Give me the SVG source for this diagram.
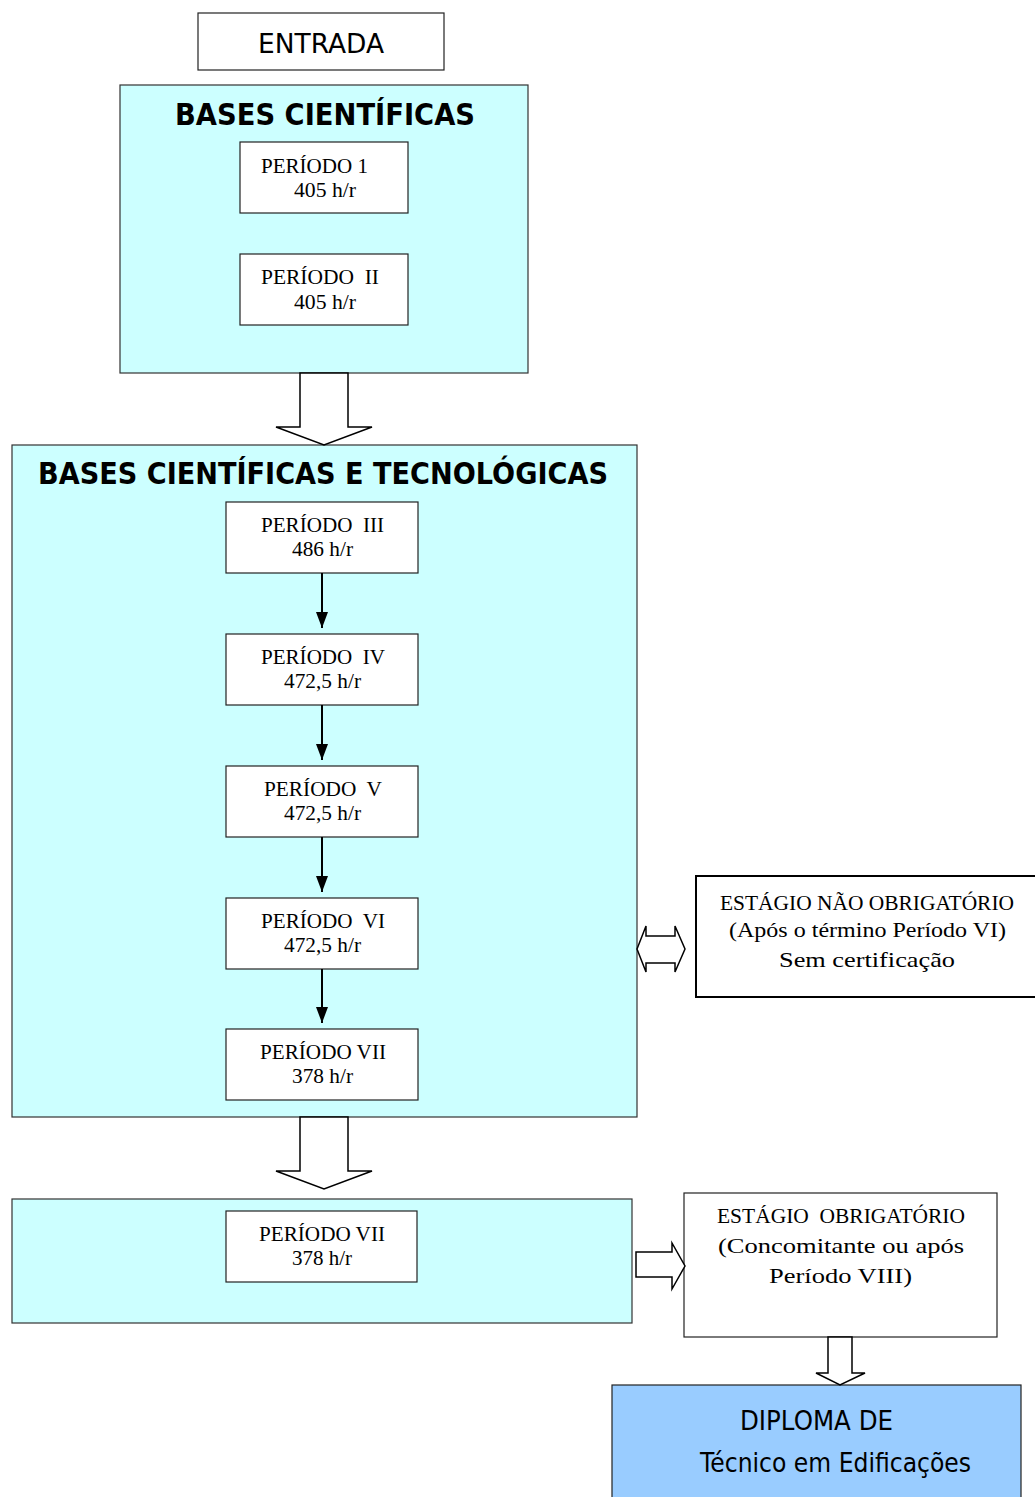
<svg xmlns="http://www.w3.org/2000/svg" width="1035" height="1497" viewBox="0 0 1035 1497">
<style>
.bg{fill:#fff}
.box{fill:#fff;stroke:#222;stroke-width:1.2}
.panel{fill:#CCFFFF;stroke:#333;stroke-width:1.2}
.blk{fill:#fff;stroke:#000;stroke-width:1.5;stroke-linejoin:miter}
.tm{font-family:"Liberation Serif","Times New Roman",serif;font-size:21px;fill:#000;white-space:pre}
.sn{font-family:"DejaVu Sans","Liberation Sans",sans-serif;font-size:27px;fill:#000}
.ttl{font-family:"DejaVu Sans","Liberation Sans",sans-serif;font-size:30px;font-weight:bold;fill:#000}
.ln{stroke:#000;stroke-width:2;fill:none}
</style>
<defs>
<marker id="ah" markerWidth="16" markerHeight="12" refX="16" refY="6" orient="auto" markerUnits="userSpaceOnUse" viewBox="0 0 16 12">
<path d="M0,0 L16,6 L0,12 Z" fill="#000"/>
</marker>
</defs>
<rect class="bg" x="0" y="0" width="1035" height="1497"/>

<g id="entrada">
<rect class="box" x="198" y="13" width="246" height="57"/>
<text class="sn" x="258" y="53" textLength="126" lengthAdjust="spacingAndGlyphs">ENTRADA</text>
</g>

<g id="bases-cientificas">
<rect class="panel" x="120" y="85" width="408" height="288"/>
<text class="ttl" x="175" y="125" textLength="300" lengthAdjust="spacingAndGlyphs">BASES CIENTÍFICAS</text>
</g>
<g id="periodo-1">
<rect class="box" x="240" y="142" width="168" height="71"/>
<text class="tm" x="261" y="173" textLength="107" lengthAdjust="spacingAndGlyphs">PERÍODO 1</text>
<text class="tm" x="294" y="197" textLength="62" lengthAdjust="spacingAndGlyphs">405 h/r</text>
</g>
<g id="periodo-2">
<rect class="box" x="240" y="254" width="168" height="71"/>
<text class="tm" x="261" y="284" textLength="118" lengthAdjust="spacingAndGlyphs">PERÍODO  II</text>
<text class="tm" x="294" y="309" textLength="62" lengthAdjust="spacingAndGlyphs">405 h/r</text>
</g>

<g id="bases-tecnologicas">
<rect class="panel" x="12" y="445" width="625" height="672"/>
<text class="ttl" x="38" y="484" textLength="570" lengthAdjust="spacingAndGlyphs">BASES CIENTÍFICAS E TECNOLÓGICAS</text>
</g>
<g id="periodo-3">
<rect class="box" x="226" y="502" width="192" height="71"/>
<text class="tm" x="261" y="532" textLength="123" lengthAdjust="spacingAndGlyphs">PERÍODO  III</text>
<text class="tm" x="292" y="556" textLength="61" lengthAdjust="spacingAndGlyphs">486 h/r</text>
</g>
<g id="periodo-4">
<rect class="box" x="226" y="634" width="192" height="71"/>
<text class="tm" x="261" y="664" textLength="124" lengthAdjust="spacingAndGlyphs">PERÍODO  IV</text>
<text class="tm" x="284" y="688" textLength="77" lengthAdjust="spacingAndGlyphs">472,5 h/r</text>
</g>
<g id="periodo-5">
<rect class="box" x="226" y="766" width="192" height="71"/>
<text class="tm" x="264" y="796" textLength="118" lengthAdjust="spacingAndGlyphs">PERÍODO  V</text>
<text class="tm" x="284" y="820" textLength="77" lengthAdjust="spacingAndGlyphs">472,5 h/r</text>
</g>
<g id="periodo-6">
<rect class="box" x="226" y="898" width="192" height="71"/>
<text class="tm" x="261" y="928" textLength="124" lengthAdjust="spacingAndGlyphs">PERÍODO  VI</text>
<text class="tm" x="284" y="952" textLength="77" lengthAdjust="spacingAndGlyphs">472,5 h/r</text>
</g>
<g id="periodo-7">
<rect class="box" x="226" y="1029" width="192" height="71"/>
<text class="tm" x="260" y="1059" textLength="126" lengthAdjust="spacingAndGlyphs">PERÍODO VII</text>
<text class="tm" x="292" y="1083" textLength="61" lengthAdjust="spacingAndGlyphs">378 h/r</text>
</g>

<g id="bloco-final">
<rect class="panel" x="12" y="1199" width="620" height="124"/>
</g>
<g id="periodo-7b">
<rect class="box" x="226" y="1211" width="191" height="71"/>
<text class="tm" x="259" y="1241" textLength="126" lengthAdjust="spacingAndGlyphs">PERÍODO VII</text>
<text class="tm" x="292" y="1265" textLength="60" lengthAdjust="spacingAndGlyphs">378 h/r</text>
</g>

<g id="estagio-nao-obrigatorio">
<rect x="696" y="876" width="345" height="121" fill="#fff" stroke="#000" stroke-width="2"/>
<text class="tm" x="720" y="910" font-size="21" textLength="294" lengthAdjust="spacingAndGlyphs">ESTÁGIO NÃO OBRIGATÓRIO</text>
<text class="tm" x="729" y="937" font-size="23" textLength="277" lengthAdjust="spacingAndGlyphs">(Após o término Período VI)</text>
<text class="tm" x="779" y="967" font-size="26" textLength="176" lengthAdjust="spacingAndGlyphs">Sem certificação</text>
</g>

<g id="estagio-obrigatorio">
<rect class="box" x="684" y="1193" width="313" height="144"/>
<text class="tm" x="717" y="1223" font-size="21" textLength="248" lengthAdjust="spacingAndGlyphs">ESTÁGIO  OBRIGATÓRIO</text>
<text class="tm" x="718" y="1253" font-size="25" textLength="246" lengthAdjust="spacingAndGlyphs">(Concomitante ou após</text>
<text class="tm" x="769" y="1283" font-size="25" textLength="143" lengthAdjust="spacingAndGlyphs">Período VIII)</text>
</g>

<g id="diploma">
<rect x="612" y="1385" width="409" height="125" fill="#99CCFF" stroke="#222" stroke-width="1.2"/>
<text class="sn" x="740" y="1430" textLength="153" lengthAdjust="spacingAndGlyphs">DIPLOMA DE</text>
<text class="sn" x="700" y="1472" textLength="271" lengthAdjust="spacingAndGlyphs">Técnico em Edificações</text>
</g>

<g id="connectors">
<path class="blk" d="M300,373 L348,373 L348,427 L372,427 L324,445 L276,427 L300,427 Z"/>
<path class="blk" d="M300,1117 L348,1117 L348,1171 L372,1171 L324,1189 L276,1171 L300,1171 Z"/>
<path class="blk" d="M637,949 L646,926 L646,936 L675,936 L675,926 L685,949 L675,972 L675,963 L646,963 L646,972 Z"/>
<path class="blk" d="M636,1252 L672,1252 L672,1243 L685,1266 L672,1289 L672,1277 L636,1277 Z"/>
<path class="blk" d="M828,1337 L852,1337 L852,1373 L865,1373 L840,1385 L816,1373 L828,1373 Z"/>
<line class="ln" x1="322" y1="573" x2="322" y2="628" marker-end="url(#ah)"/>
<line class="ln" x1="322" y1="705" x2="322" y2="760" marker-end="url(#ah)"/>
<line class="ln" x1="322" y1="837" x2="322" y2="892" marker-end="url(#ah)"/>
<line class="ln" x1="322" y1="969" x2="322" y2="1023" marker-end="url(#ah)"/>
</g>
</svg>
